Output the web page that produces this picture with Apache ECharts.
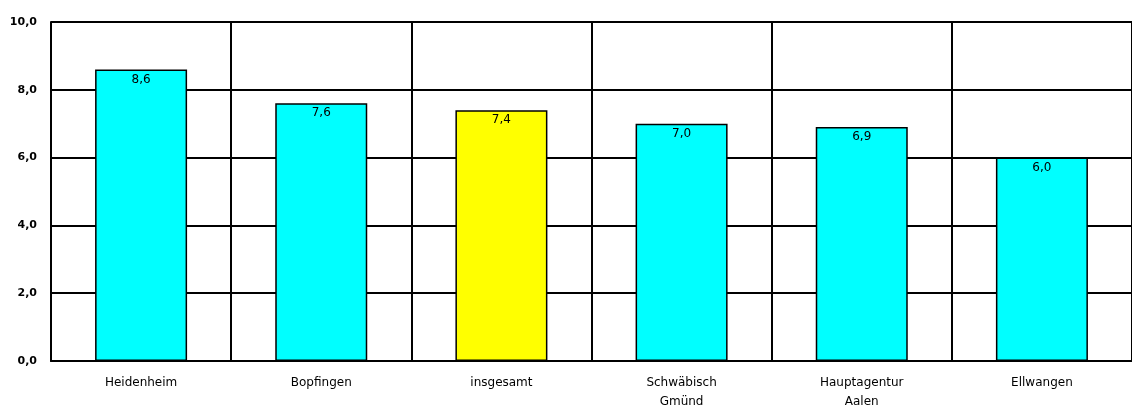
<!DOCTYPE html>
<html>
<head>
<meta charset="utf-8">
<script src="https://cdn.jsdelivr.net/npm/echarts@6/dist/echarts.min.js"></script>
<style>
html, body { margin: 0; padding: 0; background: #fff; }
#chart { width: 1132px; height: 417px; }
</style>
</head>
<body>
<div id="chart"></div>
<script>
var categories = [ 'Heidenheim', 'Bopfingen', 'insgesamt', 'Schwäbisch\nGmünd', 'Hauptagentur\nAalen', 'Ellwangen' ];
var values = [ 8.6, 7.6, 7.4, 7.0, 6.9, 6.0 ];
var highlightName = 'insgesamt';

function fmt(v) {
	return v.toFixed(1).replace('.', ',');
}

var myChart = echarts.init(document.getElementById('chart'));
var option = {
	animation : false,
	textStyle : {
		fontFamily : 'DejaVu Sans',
		color : '#000'
	},
	grid : {
		left : 51,
		right : -2,
		top : 22,
		bottom : 56
	},
	xAxis : {
		type : 'category',
		data : categories,
		axisLine : { lineStyle : { color : '#000', width : 2 } },
		axisTick : { show : false },
		axisLabel : { fontSize : 12, color : '#000', margin : 12, lineHeight : 19 },
		splitLine : { show : true, interval : 0, lineStyle : { color : '#000', width : 2 } }
	},
	yAxis : {
		type : 'value',
		min : 0,
		max : 10,
		interval : 2,
		axisLine : { show : true, lineStyle : { color : '#000', width : 2 } },
		axisTick : { show : false },
		axisLabel : {
			fontSize : 11,
			fontWeight : 'bold',
			color : '#000',
			margin : 14,
			formatter : function(v) { return fmt(v); }
		},
		splitLine : { lineStyle : { color : '#000', width : 2 } }
	},
	series : [ {
		type : 'bar',
		barWidth : 92,
		data : values.map(function(v, i) {
			return {
				value : v,
				itemStyle : {
					color : categories[i] === highlightName ? '#ffff00' : '#00ffff'
				}
			};
		}),
		itemStyle : { borderColor : '#000', borderWidth : 1.5 },
		label : {
			show : true,
			position : 'insideTop',
			distance : 4,
			fontSize : 12,
			color : '#000',
			formatter : function(p) { return fmt(p.value); }
		}
	} ]
};
myChart.setOption(option);
</script>
</body>
</html>
